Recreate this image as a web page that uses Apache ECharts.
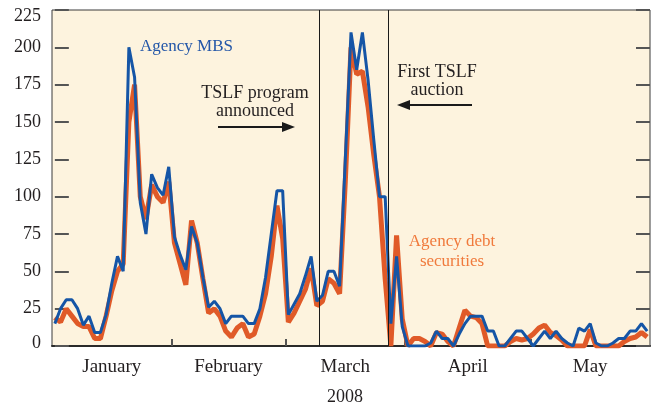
<!DOCTYPE html>
<html>
<head>
<meta charset="utf-8">
<script src="https://cdn.jsdelivr.net/npm/echarts@6/dist/echarts.min.js"></script>
<style>html,body{margin:0;padding:0;background:#fff}#c{width:654px;height:405px}</style>
</head>
<body>
<div id="c"></div>
<script>
// Business days, 2008
var janDays = [2,3,4,7,8,9,10,11,14,15,16,17,18,22,23,24,25,28,29,30,31];
var febDays = [1,4,5,6,7,8,11,12,13,14,15,19,20,21,22,25,26,27,28,29];
var marDays = [3,4,5,6,7,10,11,12,13,14,17,18,19,20,21,24,25,26,27,28,31];
var aprDays = [1,2,3,4,7,8,9,10,11,14,15,16,17,18,21,22,23,24,25,28,29,30];
var mayDays = [1,2,5,6,7,8,9,12,13,14,15,16,19,20,21,22,23,27,28,29,30];
var monthNames = ['January','February','March','April','May'];

var agencyMBS = [15,25,31,31,25,14,20,9,9,21,42,60,50,200,180,96,75,115,106,101,120,
  73,61,51,80,69,46,26,30,25,15,20,20,20,15,15,25,46,75,104,104,
  21,28,35,47,60,30,34,50,50,40,125,210,185,210,178,138,100,100,15,60,13,
  0,0,0,0,2,10,5,5,0,8,15,20,20,20,10,10,0,0,5,10,10,5,
  0,5,10,5,10,5,2,0,12,10,15,2,0,0,2,5,5,10,10,15,10];
var agencyDebt = [19,16,25,20,15,13,13,5,5,20,37,50,55,150,175,100,85,108,100,96,110,
  69,55,41,84,69,45,22,25,20,10,6,12,15,6,8,20,35,60,94,72,
  16,22,30,38,52,27,30,45,42,35,110,200,182,184,160,128,100,45,0,74,18,
  0,5,5,3,0,9,8,3,0,12,24,20,19,15,0,0,0,0,3,5,4,5,
  8,12,14,9,7,4,0,0,0,0,11,0,0,0,0,0,3,5,6,9,6];
var yTicks = [0,25,50,75,100,125,150,175,200,225];
var events = [{date:'2008-03-11', label:'TSLF program\nannounced'},
              {date:'2008-03-27', label:'First TSLF\nauction'}];

function pad(n){return (n<10?'0':'')+n;}
var dates = [];
[janDays,febDays,marDays,aprDays,mayDays].forEach(function(arr,m){
  arr.forEach(function(d){ dates.push('2008-'+pad(m+1)+'-'+pad(d)); });
});
var N = dates.length;
// month boundaries and label positions (in index units)
var bounds = [], mids = [], midName = {};
var start = 0;
for (var i = 1; i <= N; i++) {
  if (i === N || dates[i].slice(5,7) !== dates[i-1].slice(5,7)) {
    var mid = (start + i - 1) / 2;
    mids.push(mid);
    midName[mid] = monthNames[parseInt(dates[i-1].slice(5,7),10)-1];
    if (i < N) bounds.push(i - 0.5);
    start = i;
  }
}
var mbsData = agencyMBS.map(function(v,i){return [i,v];});
var debtData = agencyDebt.map(function(v,i){return [i,v];});
var evX = events.map(function(e){return dates.indexOf(e.date) - 0.5;});
var yMax = yTicks[yTicks.length-1];

var serif = '"Liberation Serif","DejaVu Serif",serif';
var txt = '#231f20';
var chart = echarts.init(document.getElementById('c'));
chart.setOption({
  animation: false,
  grid: {left: 52, right: 4, top: 10, bottom: 59, show: true, containLabel: false,
         outerBoundsMode: 'none',
         backgroundColor: '#fdf3de', borderColor: '#3a3a3a', borderWidth: 1},
  xAxis: {
    type: 'value', min: -0.5, max: N - 0.5,
    name: '2008', nameLocation: 'middle', nameGap: 42,
    nameTextStyle: {fontFamily: serif, fontSize: 18, color: txt, padding: [0, 12, 0, 0]},
    axisLine: {show: true, onZero: false, lineStyle: {color: '#2a2a2a', width: 2}},
    axisTick: {show: true, inside: true, length: 7, customValues: bounds,
               lineStyle: {color: '#555', width: 2}},
    axisLabel: {customValues: mids, margin: 12, fontFamily: serif, fontSize: 19, color: txt,
                formatter: function(v){ return midName[v] || ''; }},
    splitLine: {show: false}
  },
  yAxis: [{
    type: 'value', min: 0, max: yMax, interval: 25,
    axisLine: {show: false},
    axisTick: {show: true, inside: true, length: 14, lineStyle: {color: '#555', width: 2}},
    axisLabel: {margin: 11, fontFamily: serif, fontSize: 18, color: txt,
      formatter: function(v){ return v === yMax ? '{t|' + v + '}' : (v === 0 ? '{b|0}' : String(v)); },
      rich: {t: {fontFamily: serif, fontSize: 18, color: txt, padding: [12, 0, 0, 0]},
             b: {fontFamily: serif, fontSize: 18, color: txt, padding: [0, 0, 6, 0]}}},
    splitLine: {show: false}
  }, {
    type: 'value', min: 0, max: yMax, interval: 25, position: 'right',
    axisLine: {show: false},
    axisTick: {show: true, inside: true, length: 14, lineStyle: {color: '#555', width: 2}},
    axisLabel: {show: false},
    splitLine: {show: false}
  }],
  series: [{
    name: 'Agency debt securities', type: 'line', data: debtData, symbol: 'none',
    lineStyle: {color: '#e05a28', width: 5}, z: 2,
    markLine: {silent: true, symbol: 'none', label: {show: false},
      lineStyle: {color: '#1a1a1a', width: 1, type: 'solid'},
      data: evX.map(function(x){return {xAxis: x};})}
  }, {
    name: 'Agency MBS', type: 'line', data: mbsData, symbol: 'none',
    lineStyle: {color: '#1555a6', width: 3}, z: 3
  }],
  graphic: [
    {type: 'text', x: 140, y: 47, style: {text: 'Agency MBS', font: '17px ' + serif, fill: '#2457a8', textVerticalAlign: 'middle'}},
    {type: 'text', x: 255, y: 102, style: {text: events[0].label, font: '18px ' + serif, fill: txt, textAlign: 'center', textVerticalAlign: 'middle', lineHeight: 18}},
    {type: 'line', shape: {x1: 218, y1: 127, x2: 284, y2: 127}, style: {stroke: '#1a1a1a', lineWidth: 2}},
    {type: 'polygon', shape: {points: [[295,127],[282,122],[282,132]]}, style: {fill: '#1a1a1a'}},
    {type: 'text', x: 437, y: 81, style: {text: events[1].label, font: '18px ' + serif, fill: txt, textAlign: 'center', textVerticalAlign: 'middle', lineHeight: 18}},
    {type: 'line', shape: {x1: 408, y1: 105, x2: 472, y2: 105}, style: {stroke: '#1a1a1a', lineWidth: 2}},
    {type: 'polygon', shape: {points: [[397,105],[410,100],[410,110]]}, style: {fill: '#1a1a1a'}},
    {type: 'text', x: 452, y: 252, style: {text: 'Agency debt\nsecurities', font: '17px ' + serif, fill: '#f07a3c', textAlign: 'center', textVerticalAlign: 'middle', lineHeight: 20}}
  ]
});
</script>
</body>
</html>
